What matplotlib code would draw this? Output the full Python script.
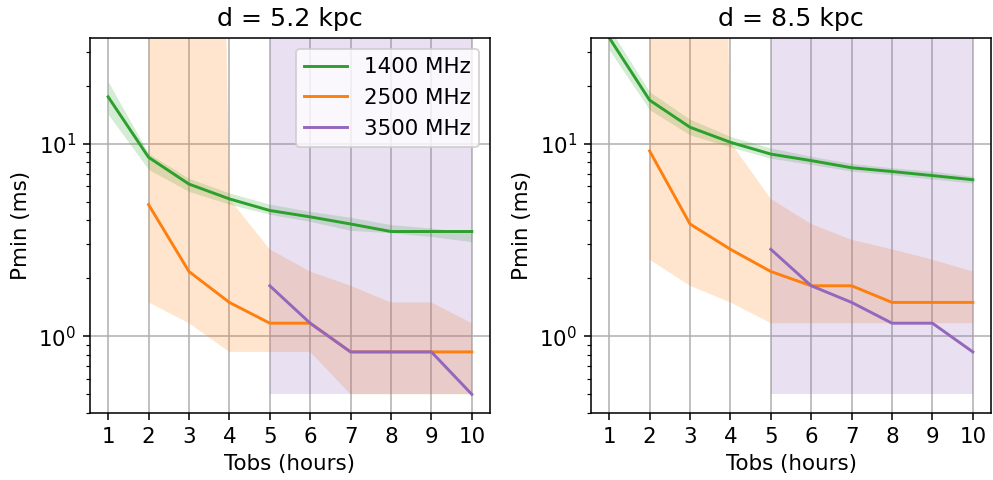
import matplotlib
matplotlib.use("Agg")
import matplotlib.pyplot as plt
import numpy as np

HUGE = 1e12

# ---- data: d = 5.2 kpc ----
tobs = [1, 2, 3, 4, 5, 6, 7, 8, 9, 10]
tobs_2500 = [2, 3, 4, 5, 6, 7, 8, 9, 10]
tobs_3500 = [5, 6, 7, 8, 9, 10]

l_1400 = [17.5, 8.5, 6.17, 5.17, 4.5, 4.17, 3.83, 3.5, 3.5, 3.5]
l_1400_hi = [21.0, 8.9, 6.6, 5.55, 4.85, 4.45, 4.15, 3.8, 3.65, 3.45]
l_1400_lo = [14.2, 7.35, 5.65, 4.85, 4.3, 3.95, 3.55, 3.45, 3.3, 3.1]

l_2500 = [4.83, 2.17, 1.5, 1.17, 1.17, 0.83, 0.83, 0.83, 0.83]
l_2500_hi = [HUGE, HUGE, 5.17, 2.83, 2.17, 1.83, 1.5, 1.5, 1.17]
l_2500_lo = [1.5, 1.17, 0.83, 0.83, 0.83, 0.5, 0.5, 0.5, 0.5]

l_3500 = [1.83, 1.17, 0.83, 0.83, 0.83, 0.5]
l_3500_hi = [HUGE, HUGE, HUGE, HUGE, HUGE, HUGE]
l_3500_lo = [0.5, 0.5, 0.5, 0.5, 0.5, 0.5]

# ---- data: d = 8.5 kpc ----
r_1400 = [35.5, 16.83, 12.17, 10.17, 8.83, 8.17, 7.5, 7.17, 6.83, 6.5]
r_1400_hi = [40.0, 18.6, 13.4, 10.9, 9.5, 8.6, 7.9, 7.5, 7.2, 6.77]
r_1400_lo = [30.7, 15.0, 11.1, 9.6, 8.4, 7.8, 7.2, 6.9, 6.55, 6.25]

r_2500 = [9.17, 3.83, 2.83, 2.17, 1.83, 1.83, 1.5, 1.5, 1.5]
r_2500_hi = [HUGE, HUGE, 10.17, 5.17, 3.83, 3.17, 2.83, 2.5, 2.17]
r_2500_lo = [2.5, 1.83, 1.5, 1.17, 1.17, 1.17, 1.17, 1.17, 1.17]

r_3500 = [2.83, 1.83, 1.5, 1.17, 1.17, 0.83]
r_3500_hi = [HUGE, HUGE, HUGE, HUGE, HUGE, HUGE]
r_3500_lo = [0.5, 0.5, 0.5, 0.5, 0.5, 0.5]

titles = ["d = 5.2 kpc", "d = 8.5 kpc"]
labels = ["1400 MHz", "2500 MHz", "3500 MHz"]
colors = ["#2ca02c", "#ff7f0e", "#9467bd"]

plt.rcParams["font.family"] = ["DejaVu Sans"]
plt.rcParams["font.size"] = 11

fig, axes = plt.subplots(1, 2, figsize=(993 / 140, 480 / 140), dpi=140)
fig.subplots_adjust(left=0.0906, right=0.998, bottom=0.1396, top=0.921, wspace=0.2525)

panels = [
    [(tobs, l_1400, l_1400_lo, l_1400_hi), (tobs_2500, l_2500, l_2500_lo, l_2500_hi),
     (tobs_3500, l_3500, l_3500_lo, l_3500_hi)],
    [(tobs, r_1400, r_1400_lo, r_1400_hi), (tobs_2500, r_2500, r_2500_lo, r_2500_hi),
     (tobs_3500, r_3500, r_3500_lo, r_3500_hi)],
]

for ax, title, series in zip(axes, titles, panels):
    for (x, y, lo, hi), c in zip(series, colors):
        ax.fill_between(x, lo, hi, color=c, alpha=0.2, linewidth=0)
    for (x, y, lo, hi), c, lab in zip(series, colors, labels):
        ax.plot(x, y, color=c, lw=1.5, label=lab)
    ax.set_yscale("log")
    ax.set_xlim(0.55, 10.45)
    ax.set_ylim(0.4, 35.4)
    ax.set_xticks(tobs)
    ax.grid(True, which="major", color="#b0b0b0", lw=0.8)
    ax.set_axisbelow(True)
    ax.set_title(title, fontsize=13)
    ax.set_xlabel("Tobs (hours)")
    ax.set_ylabel("Pmin (ms)")

axes[0].legend(loc="upper right", fontsize=11)

fig.savefig("out.png", dpi=140)
